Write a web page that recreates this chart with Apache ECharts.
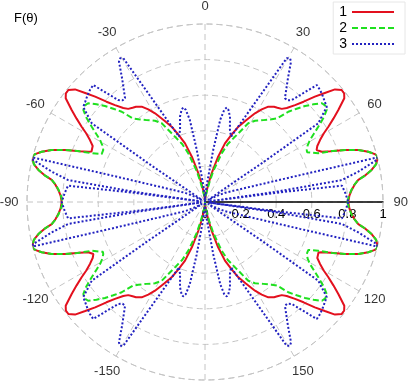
<!DOCTYPE html>
<html>
<head>
<meta charset="utf-8">
<script src="https://cdn.jsdelivr.net/npm/echarts@6/dist/echarts.min.js"></script>
<style>html,body{margin:0;padding:0;background:#fff}#c{width:409px;height:381px}</style>
</head>
<body>
<div id="c"></div>
<script>
// Quarter-pattern readings (theta in degrees, 0..90, clockwise from top); the pattern is symmetric
const thetaRed = [0, 4, 8, 11, 13.1, 16, 18.8, 21.5, 23.9, 26.5, 29.4, 31.5, 33.6, 35.9, 37.5, 39.5, 41, 42.9, 44.5, 46.2, 47.7, 49.1, 50.7, 52, 53.3, 55.4, 57, 58.6, 60, 61.7, 63.5, 65, 66, 66.7, 68, 69.6, 71.3, 72.9, 74, 74.7, 75.3, 75.8, 77.5, 79.1, 80.5, 81.8, 83.5, 85.3, 87.5, 90];
const rRed     = [0, 0.02, 0.06, 0.11, 0.166, 0.26, 0.348, 0.405, 0.463, 0.51, 0.572, 0.61, 0.643, 0.661, 0.668, 0.678, 0.70, 0.743, 0.79, 0.855, 0.91, 0.966, 0.993, 0.992, 0.976, 0.91, 0.86, 0.812, 0.77, 0.734, 0.705, 0.692, 0.698, 0.714, 0.76, 0.839, 0.91, 0.96, 0.985, 1.0, 1.003, 1.0, 0.985, 0.953, 0.915, 0.87, 0.845, 0.827, 0.812, 0.805];

const thetaGreen = [0, 4, 8, 10, 12.5, 15, 18.9, 21.5, 24.7, 28.8, 31.6, 33.5, 35.5, 38.9, 40.8, 42.7, 44.5, 46.2, 48, 49.8, 51.3, 52.9, 54.5, 56.4, 58, 59.4, 61, 62.9, 64, 65.1, 66.7, 68.2, 69.6, 71.3, 72.9, 74, 74.7, 75.3, 75.8, 77.5, 79.1, 80.5, 81.8, 83.5, 85.3, 87.5, 90];
const rGreen     = [0, 0.015, 0.04, 0.06, 0.11, 0.18, 0.289, 0.35, 0.404, 0.505, 0.536, 0.55, 0.565, 0.597, 0.621, 0.69, 0.735, 0.779, 0.82, 0.86, 0.866, 0.857, 0.82, 0.764, 0.72, 0.685, 0.66, 0.642, 0.638, 0.64, 0.693, 0.77, 0.839, 0.91, 0.96, 0.985, 1.0, 1.003, 1.0, 0.985, 0.953, 0.915, 0.87, 0.843, 0.825, 0.81, 0.80];

const thetaBlue = [0, 3, 6, 9, 10.5, 11.8, 13, 14.2, 16.3, 19, 21.7, 29.6, 30.6, 31.5, 33.8, 37.6, 39, 40.4, 43.7, 45.8, 48, 50, 52, 55.2, 55.7, 56.5, 62, 65.3, 71.4, 74.2, 75.5, 76.2, 78.8, 80.9, 81.8, 82.2, 82.6, 83.2, 86.4, 90];
const rBlue     = [0, 0.03, 0.1, 0.3, 0.47, 0.53, 0.545, 0.535, 0.5, 0.43, 0.395, 0.929, 0.938, 0.925, 0.838, 0.736, 0.735, 0.752, 0.909, 0.902, 0.89, 0.878, 0.868, 0.775, 0.385, 0.02, 0.06, 0.124, 0.267, 0.555, 1.0, 0.995, 0.878, 0.778, 0.4, 0.02, 0.4, 0.775, 0.79, 0.805];

const seriesNames = ['1', '2', '3'];
const angleTicks = [0, 30, 60, 90, 120, 150, -150, -120, -90, -60, -30];
const radiusTicks = [0, 0.2, 0.4, 0.6, 0.8, 1];
const angleLabelRadius = 1.1;

// Angle axis runs 90..450 (starting at the right, clockwise); map a signed angle onto it
function toAxis(a) { return a < 90 ? a + 360 : a; }

// Build full 360° curve by symmetry of the read quarter
function fullCurve(th, r) {
  const pts = [];
  const n = th.length;
  for (let i = n - 1; i >= 0; i--) pts.push([r[i], 180 - th[i]]);
  for (let i = 0; i < n; i++) pts.push([r[i], 180 + th[i]]);
  for (let i = n - 1; i >= 0; i--) pts.push([r[i], 360 - th[i]]);
  for (let i = 0; i < n; i++) pts.push([r[i], 360 + th[i]]);
  return pts;
}

const FONT = '"Liberation Sans", Arial, sans-serif';
const gridStyle = { color: '#c4c4c4', width: 1, type: [6, 4] };

const chart = echarts.init(document.getElementById('c'), null, { renderer: 'canvas' });
chart.setOption({
  animation: false,
  textStyle: { fontFamily: FONT },
  title: {
    text: 'F(θ)', left: 9, top: 7,
    textStyle: { fontSize: 13, fontWeight: 'normal', color: '#000', fontFamily: FONT }
  },
  legend: {
    orient: 'vertical', right: 4, top: 2, align: 'right',
    itemWidth: 42, itemHeight: 12, itemGap: 2,
    padding: [3, 10, 3, 6],
    backgroundColor: '#fff', borderColor: '#e6e6e6', borderWidth: 1,
    itemStyle: { opacity: 0 },
    textStyle: { fontSize: 14, color: '#000', fontFamily: FONT },
    data: seriesNames
  },
  polar: { center: [205, 202], radius: 178 },
  angleAxis: {
    type: 'value', min: 90, max: 450, interval: 30, startAngle: 0, clockwise: true,
    axisLine: { show: true, lineStyle: gridStyle },
    axisTick: { show: false },
    splitLine: { show: true, lineStyle: gridStyle },
    axisLabel: { show: false }
  },
  radiusAxis: {
    type: 'value', min: 0, max: 1, interval: 0.2,
    axisLine: { show: true, lineStyle: { color: '#000', width: 1.5 } },
    axisTick: { show: false },
    splitLine: { show: true, lineStyle: gridStyle },
    axisLabel: {
      margin: -19, fontSize: 13, color: '#000', fontFamily: FONT,
      formatter: function (v) { const k = Math.round(v * 10) / 10; return radiusTicks.indexOf(k) >= 0 ? String(k) : ''; }
    }
  },
  series: [
    { name: seriesNames[0], type: 'line', coordinateSystem: 'polar', symbol: 'none', smooth: false,
      lineStyle: { color: '#e3101e', width: 2 }, itemStyle: { color: '#e3101e' },
      data: fullCurve(thetaRed, rRed) },
    { name: seriesNames[1], type: 'line', coordinateSystem: 'polar', symbol: 'none', smooth: false,
      lineStyle: { color: '#1fe01f', width: 2, type: [6, 3] }, itemStyle: { color: '#1fe01f' },
      data: fullCurve(thetaGreen, rGreen) },
    { name: seriesNames[2], type: 'line', coordinateSystem: 'polar', symbol: 'none', smooth: false,
      lineStyle: { color: '#2222c0', width: 2, type: [2, 2] }, itemStyle: { color: '#2222c0' },
      data: fullCurve(thetaBlue, rBlue) },
    { name: 'angleLabels', type: 'scatter', coordinateSystem: 'polar', silent: true, clip: false,
      symbolSize: 2, itemStyle: { color: 'rgba(255,255,255,0)' },
      label: { show: true, position: 'inside', color: '#000', fontSize: 13, fontFamily: FONT,
               formatter: function (p) { return String(p.data[2]); } },
      labelLayout: { hideOverlap: false },
      data: angleTicks.map(a => [angleLabelRadius, toAxis(a), a]) }
  ]
});
</script>
</body>
</html>
